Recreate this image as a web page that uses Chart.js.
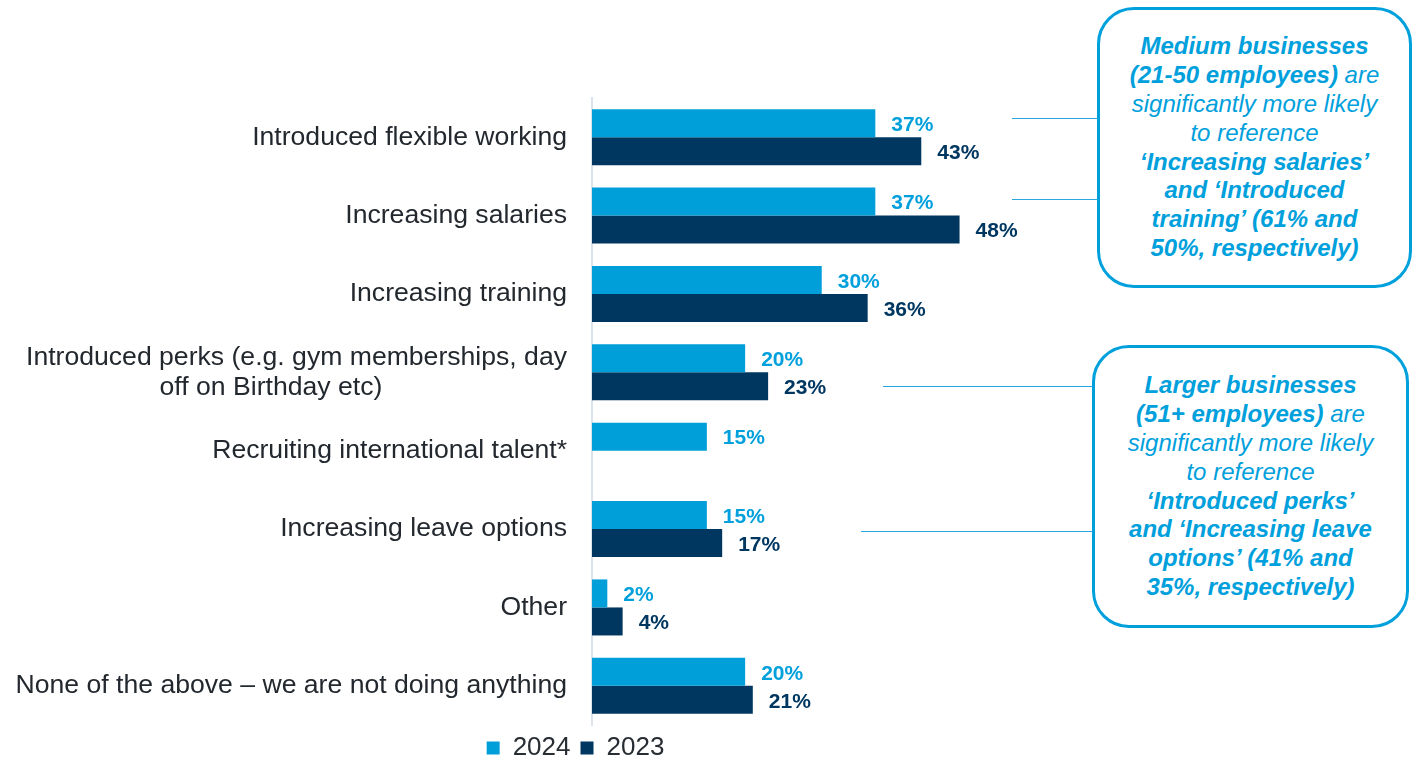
<!DOCTYPE html>
<html>
<head>
<meta charset="utf-8">
<script src="https://cdn.jsdelivr.net/npm/chart.js@4"></script>
<style>
    html, body { margin: 0; padding: 0; background: #fff; overflow: hidden; }
    #page { position: relative; width: 1414px; height: 757px; overflow: hidden; font-family: "Liberation Sans", Arial, sans-serif; }
    #chartBox { position: absolute; left: 0; top: 0; width: 1151px; height: 771px; }
    .callout {
        position: absolute; box-sizing: border-box;
        border: 3px solid #00a0dc; border-radius: 37px; background: #fff;
        display: flex; align-items: center; justify-content: center;
        text-align: center; color: #00a0dc;
        font-style: italic; font-size: 24px; line-height: 28.8px;
    }
    .link { position: absolute; height: 0; border-top: 1.5px solid #2aa8dd; }
</style>
</head>
<body>
<div id="page">
    <div id="chartBox"><canvas id="barGraph"></canvas></div>

    <div class="link" style="left:1012px; top:118px; width:86px;"></div>
    <div class="link" style="left:1012px; top:199px; width:86px;"></div>
    <div class="callout" style="left:1097px; top:7px; width:315px; height:281px;">
        <div><b>Medium businesses</b><br><b>(21-50 employees)</b> are<br>significantly more likely<br>to reference<br><b>‘Increasing salaries’</b><br><b>and ‘Introduced</b><br><b>training’ (61% and</b><br><b>50%, respectively)</b></div>
    </div>

    <div class="link" style="left:883px; top:386px; width:210px;"></div>
    <div class="link" style="left:861px; top:531px; width:232px;"></div>
    <div class="callout" style="left:1092px; top:345px; width:317px; height:283px;">
        <div><b>Larger businesses</b><br><b>(51+ employees)</b> are<br>significantly more likely<br>to reference<br><b>‘Introduced perks’</b><br><b>and ‘Increasing leave</b><br><b>options’ (41% and</b><br><b>35%, respectively)</b></div>
    </div>
</div>

<script>
// dados
const categorias = [
    'Introduced flexible working',
    'Increasing salaries',
    'Increasing training',
    ['Introduced perks (e.g. gym memberships, day', 'off on Birthday etc)' + '\u00a0'.repeat(25)],
    'Recruiting international talent*',
    'Increasing leave options',
    'Other',
    'None of the above \u2013 we are not doing anything'
];
const anos = ['2024', '2023'];
const valores2024 = [37, 37, 30, 20, 15, 15, 2, 20];
const valores2023 = [43, 48, 36, 23, null, 17, 4, 21];

const coresBarra = ['#009fda', '#003761'];
const coresTexto = ['#00a0dc', '#003761'];

// rótulos de valor no fim de cada barra
const rotulosValor = {
    id: 'rotulosValor',
    afterDatasetsDraw(chart) {
        let ctx = chart.ctx;
        ctx.save();
        ctx.font = 'bold 21px "Liberation Sans", Arial, sans-serif';
        ctx.textAlign = 'left';
        ctx.textBaseline = 'middle';
        chart.data.datasets.forEach(function(ds, i) {
            chart.getDatasetMeta(i).data.forEach(function(bar, j) {
                let v = ds.data[j];
                if (v === null || v === undefined) return;
                ctx.fillStyle = coresTexto[i];
                ctx.fillText(v + '%', bar.x + 16, bar.y + 2);
            });
        });
        ctx.restore();
    }
};

document.addEventListener('DOMContentLoaded', function() {
    let ctx = document.getElementById('barGraph').getContext('2d');
    new Chart(ctx, {
        type: 'bar',
        data: {
            labels: categorias,
            datasets: [
                {
                    label: anos[0],
                    data: valores2024,
                    backgroundColor: coresBarra[0],
                    borderWidth: 0,
                    categoryPercentage: 0.715,
                    barPercentage: 1.0
                },
                {
                    label: anos[1],
                    data: valores2023,
                    backgroundColor: coresBarra[1],
                    borderWidth: 0,
                    categoryPercentage: 0.715,
                    barPercentage: 1.0
                }
            ]
        },
        options: {
            indexAxis: 'y',
            responsive: true,
            maintainAspectRatio: false,
            animation: false,
            layout: { padding: { top: 98, left: 0, right: 0, bottom: 0 } },
            scales: {
                x: {
                    display: false,
                    min: 0,
                    max: 73
                },
                y: {
                    grid: { display: false, drawTicks: false },
                    border: { display: true, color: '#dde3ea', width: 2 },
                    ticks: {
                        padding: 25,
                        color: '#22282e',
                        font: { family: '"Liberation Sans", Arial, sans-serif', size: 26.6, lineHeight: 1.12 }
                    },
                    afterFit: function(scale) { scale.width = 592; }
                }
            },
            plugins: {
                legend: {
                    position: 'bottom',
                    labels: {
                        boxWidth: 13,
                        boxHeight: 13,
                        padding: 10,
                        color: '#272d33',
                        font: { family: '"Liberation Sans", Arial, sans-serif', size: 26, lineHeight: 1 }
                    }
                },
                tooltip: { enabled: false }
            }
        },
        plugins: [rotulosValor]
    });
});
</script>
</body>
</html>
